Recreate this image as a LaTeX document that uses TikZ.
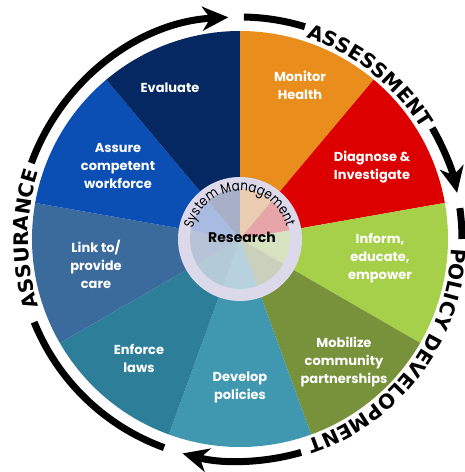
\documentclass[tikz,border=0pt]{standalone}
\usepackage{fontspec}
\usetikzlibrary{arrows.meta,decorations.text}
\newfontfamily\segfont{Poppins}
\newfontfamily\ringfont{Poppins}[FakeStretch=0.85]
\newfontfamily\arcfont{DejaVu Sans}
\definecolor{cMon}{HTML}{E98E1C}
\definecolor{cDia}{HTML}{DC0000}
\definecolor{cInf}{HTML}{A6D04A}
\definecolor{cMob}{HTML}{77923A}
\definecolor{cDev}{HTML}{3F97B0}
\definecolor{cEnf}{HTML}{2D7F99}
\definecolor{cLnk}{HTML}{3B6A9C}
\definecolor{cAss}{HTML}{0B4FB5}
\definecolor{cEva}{HTML}{062862}
\definecolor{cRing}{HTML}{DCDAEA}
\definecolor{cPale}{HTML}{ECEAF2}

\begin{document}
\begin{tikzpicture}[x=1pt,y=1pt,
  lbl/.style={text=white,align=center,font=\segfont\bfseries\fontsize{13}{18}\selectfont},
  band/.style={line width=7pt,black},
  head/.style={-{Stealth[length=26pt,width=24pt,inset=8pt]}},
  curved/.style={decorate,decoration={text along path,text align=center,text={#1}}}]
\useasboundingbox (-240,-233) rectangle (225,239);
\coordinate (O) at (0,0);
% wheel
\foreach \a/\c in {90/cMon,50/cDia,10/cInf,-30/cMob,-70/cDev,-110/cEnf,-150/cLnk,-190/cAss,-230/cEva}
  \fill[\c] (O) -- (\a:208) arc[start angle=\a,end angle=\a-40,radius=208] -- cycle;
\fill[cRing] (O) circle[radius=62];
\foreach \a/\c in {90/cMon,50/cDia,10/cInf,-30/cMob,-70/cDev,-110/cEnf,-150/cLnk,-190/cAss,-230/cEva}
  \fill[\c!30!cPale] (O) -- (\a:50) arc[start angle=\a,end angle=\a-40,radius=50] -- cycle;
% labels
\node[lbl] (mon) at (60,154) {Monitor\\Health};
\node[lbl] (dia) at (132,72) {Diagnose \&\\Investigate};
\node[lbl] (inf) at (140,-19) {Inform,\\educate,\\empower};
\node[lbl] (mob) at (104,-123) {Mobilize\\community\\partnerships};
\node[lbl] (dev) at (0,-148) {Develop\\policies};
\node[lbl] (enf) at (-101,-119) {Enforce\\laws};
\node[lbl] (lnk) at (-144,-25) {Link to/\\provide\\care};
\node[lbl] (ass) at (-122,73) {Assure\\competent\\workforce};
\node[lbl] (eva) at (-70,151) {Evaluate};
% centre
\path[curved={|\ringfont\fontsize{14}{14}\selectfont|System Management}]
  (200:48) arc[start angle=200,end angle=-17,radius=48];
\node[font=\segfont\bfseries\fontsize{14}{14}\selectfont] (res) at (2,2) {Research};
% outer arrows
\draw[band] (-110:222) arc[start angle=-110,end angle=-158,radius=222];
\draw[band,head] (160:222) arc[start angle=160,end angle=93,radius=222];
\draw[band] (89:222) arc[start angle=89,end angle=73,radius=222];
\draw[band,head] (30:222) arc[start angle=30,end angle=12,radius=222];
\draw[band] (8:222) arc[start angle=8,end angle=0,radius=222];
\draw[band,head] (-74:222) arc[start angle=-74,end angle=-105,radius=222];
\path[curved={|\arcfont\bfseries\fontsize{20}{20}\selectfont|ASSESSMENT}]
  (85:212) arc[start angle=85,end angle=18,radius=212];
\path[curved={|\arcfont\bfseries\fontsize{20}{20}\selectfont|POLICY DEVELOPMENT}]
  (10:212) arc[start angle=10,end angle=-84,radius=212];
\path[curved={|\arcfont\bfseries\fontsize{20}{20}\selectfont|ASSURANCE}]
  (210:212) arc[start angle=210,end angle=150,radius=212];
\end{tikzpicture}
\end{document}
